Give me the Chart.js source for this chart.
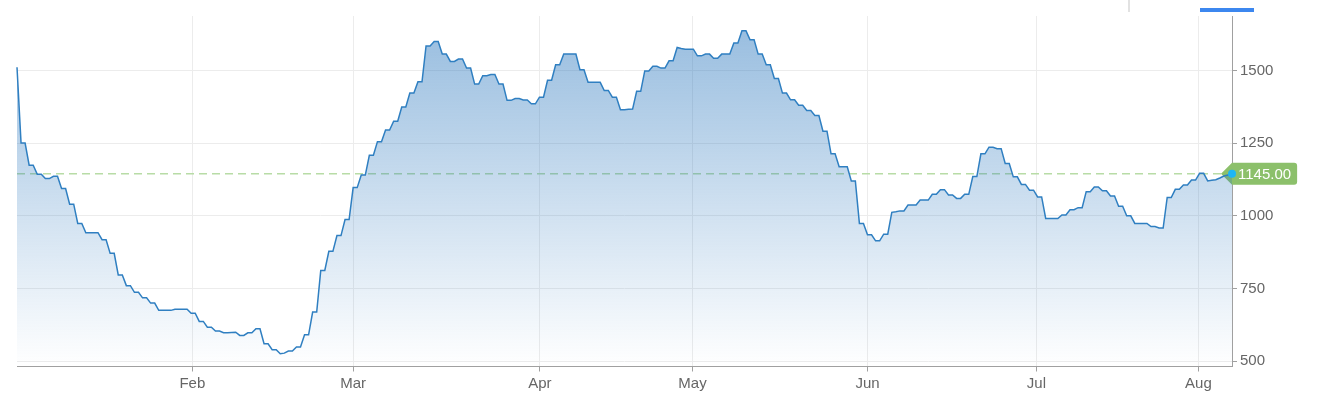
<!DOCTYPE html>
<html>
<head>
<meta charset="utf-8">
<script src="https://cdn.jsdelivr.net/npm/chart.js@4.4.1/dist/chart.umd.min.js"></script>
<style>
  body { margin: 0; background: #fff; }
  #wrap { position: relative; width: 1320px; height: 409px; }
  .sep { position: absolute; left: 1128px; top: 0; width: 2px; height: 12px; background: #e2e2e2; }
  .tab { position: absolute; left: 1200px; top: 8px; width: 54px; height: 4px; background: #3c87ef; }
</style>
</head>
<body>
<div id="wrap">
  <canvas id="priceChart" width="1320" height="409"></canvas>
  <div class="sep"></div>
  <div class="tab"></div>
</div>
<script>
// one value per point, left to right
const prices = [
  1511,1250,1250,1174,1174,1143,1143,1128,1128,1136,
  1136,1094,1094,1040,1040,974,974,942,942,942,
  942,918,918,871,871,797,797,760,760,737,
  737,718,718,700,700,675,675,675,675,679,
  679,679,679,665,665,637,637,617,617,604,
  604,598,598,599,600,589,589,598,598,612,
  612,560,560,540,540,526,528,535,535,549,
  549,591,591,669,669,812,812,878,878,932,
  932,987,987,1097,1097,1140,1140,1208,1208,1255,
  1255,1295,1295,1325,1325,1374,1374,1422,1422,1461,
  1461,1584,1584,1599,1599,1556,1556,1531,1531,1539,
  1539,1508,1508,1453,1453,1482,1482,1486,1486,1453,
  1453,1397,1397,1403,1403,1398,1398,1385,1385,1408,
  1408,1466,1466,1519,1519,1556,1556,1556,1556,1502,
  1502,1459,1459,1459,1459,1431,1431,1408,1408,1365,
  1365,1366,1367,1428,1428,1498,1498,1514,1514,1508,
  1508,1533,1533,1579,1575,1573,1573,1573,1550,1550,
  1556,1556,1542,1542,1556,1556,1556,1594,1594,1636,
  1636,1605,1605,1556,1556,1519,1519,1472,1472,1422,
  1422,1399,1399,1380,1380,1362,1362,1345,1345,1291,
  1291,1213,1213,1169,1169,1169,1120,1120,974,974,
  935,935,914,914,937,937,1012,1014,1017,1017,
  1037,1037,1037,1054,1054,1054,1074,1074,1090,1090,
  1072,1072,1060,1060,1074,1074,1135,1135,1213,1213,
  1236,1236,1231,1231,1180,1180,1134,1134,1108,1108,
  1088,1088,1065,1065,991,991,991,991,1003,1003,
  1021,1021,1028,1028,1083,1083,1099,1099,1086,1086,
  1068,1068,1033,1033,1000,1000,974,974,974,974,
  963,963,958,958,1063,1063,1091,1091,1106,1106,
  1123,1123,1146,1146,1120,1122,1124,1130,1137,1140,
  1145
];

// month labels and the point position where each month starts
const monthNames = ['Feb', 'Mar', 'Apr', 'May', 'Jun', 'Jul', 'Aug'];
const monthPos = [43.3, 83.0, 129.1, 166.8, 210.0, 251.7, 291.7];
const yTicks = [500, 750, 1000, 1250, 1500];

const points = prices.map((v, i) => ({ x: i, y: v }));
const lastIndex = prices.length - 1;
const axisFont = { family: 'Arial, "Liberation Sans", sans-serif', size: 15 };

// dashed line at the last price plus the green price tag
const lastPricePlugin = {
  id: 'lastPrice',
  beforeDatasetsDraw(chart) {
    const { ctx, chartArea, scales } = chart;
    const last = prices[lastIndex];
    const y = scales.y.getPixelForValue(last);
    const x = scales.x.getPixelForValue(lastIndex);
    ctx.save();
    ctx.strokeStyle = '#b8dca6';
    ctx.lineWidth = 1.5;
    ctx.setLineDash([8, 5]);
    ctx.beginPath();
    ctx.moveTo(chartArea.left, y);
    ctx.lineTo(chartArea.right, y);
    ctx.stroke();
    ctx.setLineDash([]);

    const text = last.toFixed(2);
    ctx.font = '15px Arial, "Liberation Sans", sans-serif';
    const w = ctx.measureText(text).width;
    const h = 11;
    const tip = x - 11;
    const right = x + 6 + w + 6;
    const r = 3;
    ctx.fillStyle = '#8cc06b';
    ctx.beginPath();
    ctx.moveTo(tip, y);
    ctx.lineTo(x, y - h);
    ctx.lineTo(right - r, y - h);
    ctx.quadraticCurveTo(right, y - h, right, y - h + r);
    ctx.lineTo(right, y + h - r);
    ctx.quadraticCurveTo(right, y + h, right - r, y + h);
    ctx.lineTo(x, y + h);
    ctx.closePath();
    ctx.fill();
    ctx.fillStyle = '#fff';
    ctx.textBaseline = 'middle';
    ctx.textAlign = 'left';
    ctx.fillText(text, x + 6, y + 1);
    ctx.restore();
  }
};

const canvas = document.getElementById('priceChart');
new Chart(canvas.getContext('2d'), {
  type: 'line',
  data: {
    datasets: [{
      data: points,
      borderColor: '#2f7fc1',
      borderWidth: 1.5,
      tension: 0,
      fill: 'start',
      clip: false,
      backgroundColor: (context) => {
        const area = context.chart.chartArea;
        if (!area) return 'rgba(44,120,190,0.25)';
        const g = context.chart.ctx.createLinearGradient(0, area.top, 0, area.bottom);
        g.addColorStop(0, 'rgba(44,120,190,0.5)');
        g.addColorStop(1, 'rgba(44,120,190,0.0)');
        return g;
      },
      pointRadius: (c) => c.dataIndex === lastIndex ? 4 : 0,
      pointHoverRadius: 0,
      pointBackgroundColor: '#1db6f5',
      pointBorderWidth: 0
    }]
  },
  options: {
    responsive: false,
    animation: false,
    layout: { padding: { left: 17, top: 16, right: 0, bottom: 0 } },
    plugins: {
      legend: { display: false },
      tooltip: { enabled: false }
    },
    scales: {
      x: {
        type: 'linear',
        min: 0,
        max: lastIndex,
        afterBuildTicks: (scale) => { scale.ticks = monthPos.map(v => ({ value: v })); },
        afterFit: (scale) => { scale.height = 42.5; },
        ticks: {
          autoSkip: false,
          maxRotation: 0,
          padding: 3,
          color: '#666',
          font: axisFont,
          callback: (value, index) => monthNames[index]
        },
        grid: { color: '#ececec', tickColor: '#a0a0a0', tickLength: 5 },
        border: { color: '#a0a0a0', width: 1 }
      },
      y: {
        position: 'right',
        min: 482,
        max: 1687,
        afterBuildTicks: (scale) => { scale.ticks = yTicks.map(v => ({ value: v })); },
        afterFit: (scale) => { scale.width = 88; },
        ticks: {
          padding: 3,
          color: '#666',
          font: axisFont,
          callback: (value) => String(value)
        },
        grid: { color: '#ececec', tickColor: '#a0a0a0', tickLength: 5 },
        border: { color: '#a0a0a0', width: 1 }
      }
    }
  },
  plugins: [lastPricePlugin]
});
</script>
</body>
</html>
